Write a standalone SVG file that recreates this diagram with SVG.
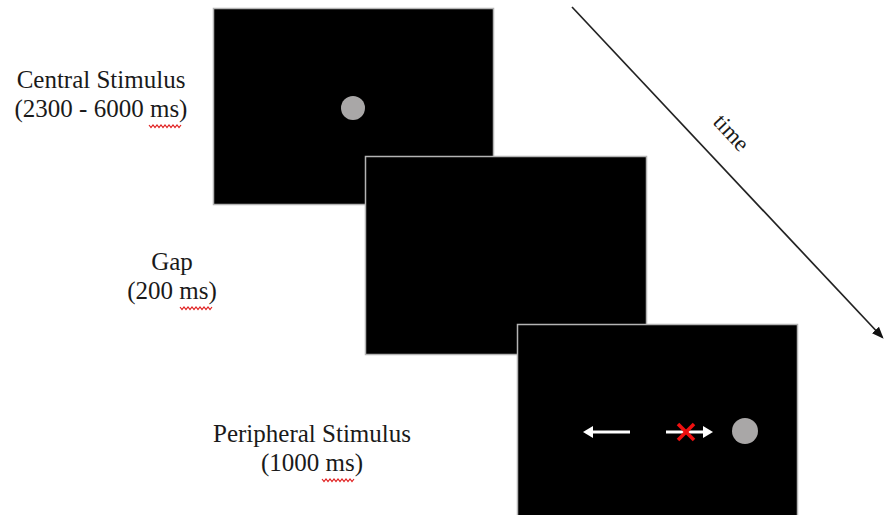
<svg xmlns="http://www.w3.org/2000/svg" width="884" height="515" viewBox="0 0 884 515">
<defs>
<style>
.lbl{font-family:"Liberation Serif","Times New Roman",serif;font-size:25px;fill:#1a1a1a;text-anchor:middle}
.scr{fill:#000;stroke:#b4b4b4;stroke-width:1.5}
.sq{fill:none;stroke:#e02020;stroke-width:1.2}
.dot{fill:#a9a7a7}
</style>
<marker id="ah" viewBox="0 0 10 10" refX="8" refY="5" markerWidth="7" markerHeight="7" markerUnits="strokeWidth" orient="auto">
<path d="M0,1 L10,5 L0,9 z" fill="#111"/>
</marker>
</defs>
<rect width="884" height="515" fill="#fff"/>
<g id="central">
<rect class="scr" x="213.5" y="8.5" width="280" height="196"/>
<circle class="dot" cx="353" cy="108" r="12"/>
</g>
<g id="gap">
<rect class="scr" x="365.5" y="156.5" width="281" height="198"/>
</g>
<g id="peripheral">
<rect class="scr" x="517.5" y="324.5" width="280" height="200"/>
<line x1="592" y1="432" x2="630" y2="432" stroke="#fff" stroke-width="3"/>
<polygon points="583,432 593,426 593,438" fill="#fff"/>
<line x1="666" y1="432" x2="704" y2="432" stroke="#fff" stroke-width="3"/>
<polygon points="713,432 703,426 703,438" fill="#fff"/>
<line x1="678" y1="424" x2="694" y2="440" stroke="#f01010" stroke-width="3.5"/>
<line x1="678" y1="440" x2="694" y2="424" stroke="#f01010" stroke-width="3.5"/>
<circle class="dot" cx="745" cy="431" r="13"/>
</g>
<g id="labels">
<text class="lbl" x="101" y="88">Central Stimulus</text>
<text class="lbl" x="101" y="117">(2300 - 6000 ms)</text>
<path class="sq" d="M149,125 l2,2.5 l2,-2.5 l2,2.5 l2,-2.5 l2,2.5 l2,-2.5 l2,2.5 l2,-2.5 l2,2.5 l2,-2.5 l2,2.5 l2,-2.5 l2,2.5 l2,-2.5 l2,2.5 l2,-2.5"/>
<text class="lbl" x="172" y="270">Gap</text>
<text class="lbl" x="172" y="299">(200 ms)</text>
<path class="sq" d="M180,307 l2,2.5 l2,-2.5 l2,2.5 l2,-2.5 l2,2.5 l2,-2.5 l2,2.5 l2,-2.5 l2,2.5 l2,-2.5 l2,2.5 l2,-2.5 l2,2.5 l2,-2.5 l2,2.5 l2,-2.5"/>
<text class="lbl" x="312" y="442">Peripheral Stimulus</text>
<text class="lbl" x="312" y="471">(1000 ms)</text>
<path class="sq" d="M322,479 l2,2.5 l2,-2.5 l2,2.5 l2,-2.5 l2,2.5 l2,-2.5 l2,2.5 l2,-2.5 l2,2.5 l2,-2.5 l2,2.5 l2,-2.5 l2,2.5 l2,-2.5 l2,2.5 l2,-2.5"/>
</g>
<g id="connectors">
<line x1="572" y1="7" x2="882" y2="337" stroke="#222" stroke-width="1.7" marker-end="url(#ah)"/>
<text class="lbl" style="font-size:23px" transform="translate(731,133) rotate(47)" x="0" y="7">time</text>
</g>
</svg>
